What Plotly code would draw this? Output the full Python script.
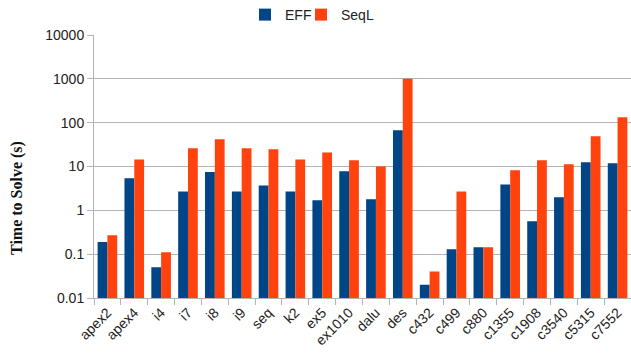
import plotly.graph_objects as go

categories = ["apex2", "apex4", "i4", "i7", "i8", "i9", "seq", "k2", "ex5", "ex1010",
              "dalu", "des", "c432", "c499", "c880", "c1355", "c1908", "c3540", "c5315", "c7552"]
eff = [0.19, 5.4, 0.05, 2.7, 7.5, 2.7, 3.7, 2.7, 1.7, 7.8,
       1.8, 67, 0.02, 0.13, 0.143, 3.9, 0.56, 2.0, 12.5, 11.8]
seql = [0.27, 14.5, 0.11, 26, 42, 26, 24.7, 14.5, 21, 13.9,
        10, 1000, 0.04, 2.7, 0.143, 8.2, 13.9, 11.2, 49, 133]
tick_vals = [0.01, 0.1, 1, 10, 100, 1000, 10000]
tick_text = ["0.01", "0.1", "1", "10", "100", "1000", "10000"]
y_title = "Time to Solve (s)"

fig = go.Figure()
fig.add_trace(go.Bar(name="EFF", x=categories, y=eff, marker_color="#004586",
                     marker_line_width=0, legend="legend"))
fig.add_trace(go.Bar(name="SeqL", x=categories, y=seql, marker_color="#ff420e",
                     marker_line_width=0, legend="legend2"))

leg_common = dict(orientation="h", yref="container", y=1 - 15 / 354, yanchor="middle",
                  xanchor="left", font=dict(size=14, color="#222"), itemwidth=30,
                  bgcolor="rgba(0,0,0,0)")

fig.update_layout(
    width=631, height=354,
    margin=dict(l=94, r=0, t=35, b=56, autoexpand=False),
    paper_bgcolor="white", plot_bgcolor="white",
    barmode="group", bargap=0.27, bargroupgap=0,
    font=dict(family="Liberation Sans, Arial, sans-serif", size=14, color="#222"),
    legend=dict(leg_common, x=(245 - 94) / 537),
    legend2=dict(leg_common, x=(301 - 94) / 537),
    showlegend=True,
)
fig.add_annotation(text="<b>" + y_title + "</b>", textangle=-90, showarrow=False,
                   xref="paper", yref="paper",
                   x=-(94 - 17) / 537, y=(298 - 198) / 263,
                   xanchor="center", yanchor="middle",
                   font=dict(family="Liberation Serif, Times New Roman, serif", size=16, color="#111"))
fig.update_xaxes(type="category", tickangle=-45, showline=True, linecolor="#b3b3b3",
                 ticks="outside", tickson="boundaries", ticklen=6, tickcolor="#b3b3b3",
                 showgrid=False, tickfont=dict(size=14), automargin=False)
fig.update_yaxes(type="log", range=[-2, 4], tickvals=tick_vals, ticktext=tick_text,
                 showline=True, linecolor="#b3b3b3", ticks="outside", ticklen=6,
                 tickcolor="#b3b3b3", gridcolor="#b3b3b3", gridwidth=1,
                 tickfont=dict(size=14), automargin=False)

fig.write_html("out.html")
